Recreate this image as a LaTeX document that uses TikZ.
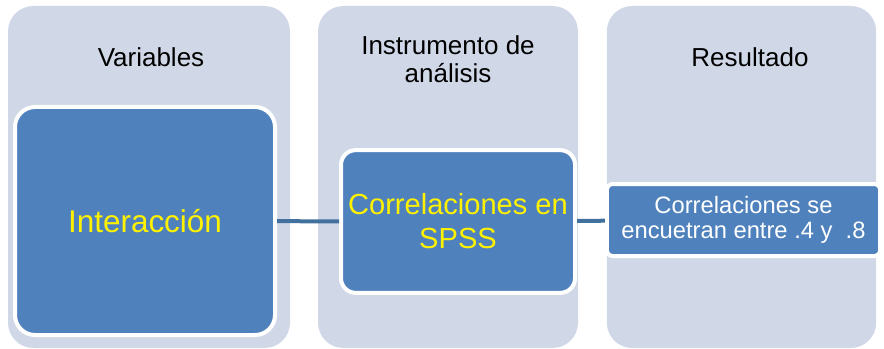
\documentclass[tikz,border=0pt]{standalone}
\usepackage{fontspec}
\setmainfont{Liberation Sans}
\usetikzlibrary{positioning}
\definecolor{colfill}{RGB}{208,216,232}
\definecolor{boxfill}{RGB}{79,129,189}
\definecolor{linkcol}{RGB}{65,113,156}

\begin{document}
\begin{tikzpicture}[x=0.75pt,y=-0.75pt,
  column/.style={fill=colfill,rounded corners=19pt,inner sep=0pt,minimum height=256.5pt},
  heading/.style={align=center,font=\fontsize{19.5}{21}\selectfont},
  box/.style={fill=boxfill,draw=white,line width=3pt,inner sep=0pt,align=center},
  link/.style={draw=linkcol,line width=3pt}]
 	\useasboundingbox (0,0) rectangle (884,349);
 	% columns
 	\node[column,minimum width=211.5pt] (col1) at (149,177) {};
 	\node[column,minimum width=195pt] (col2) at (448,177) {};
 	\node[column,minimum width=202pt] (col3) at (741.5,177) {};
 	\node[heading] (var) at (151,57) {Variables};
 	\node[heading] (instr) at (448,59) {Instrumento de\\análisis};
 	\node[heading] (res) at (750,57) {Resultado};
 	% boxes
 	\node[box,rounded corners=15pt,minimum width=195pt,minimum height=171pt,
 	  text=yellow,font=\fontsize{23.6}{26}\selectfont] (inter) at (145,221) {Interacción};
 	\node[box,rounded corners=11pt,minimum width=175.5pt,minimum height=107pt,
 	  text=yellow,font=\fontsize{21.8}{25.5}\selectfont] (spss) at (458,221.5) {Correlaciones en\\SPSS};
 	\node[box,rounded corners=4.5pt,minimum width=205pt,minimum height=54pt,
 	  text=white,font=\fontsize{17.8}{18.5}\selectfont] (result) at (743.5,220) {Correlaciones se\\encuetran entre .4 y\ \ .8};
 	\path[link]
 	(inter) edge (spss)
 	(spss) edge (result);
 	%\draw[link] (inter.east) -- (spss.west);
\end{tikzpicture}
\end{document}
